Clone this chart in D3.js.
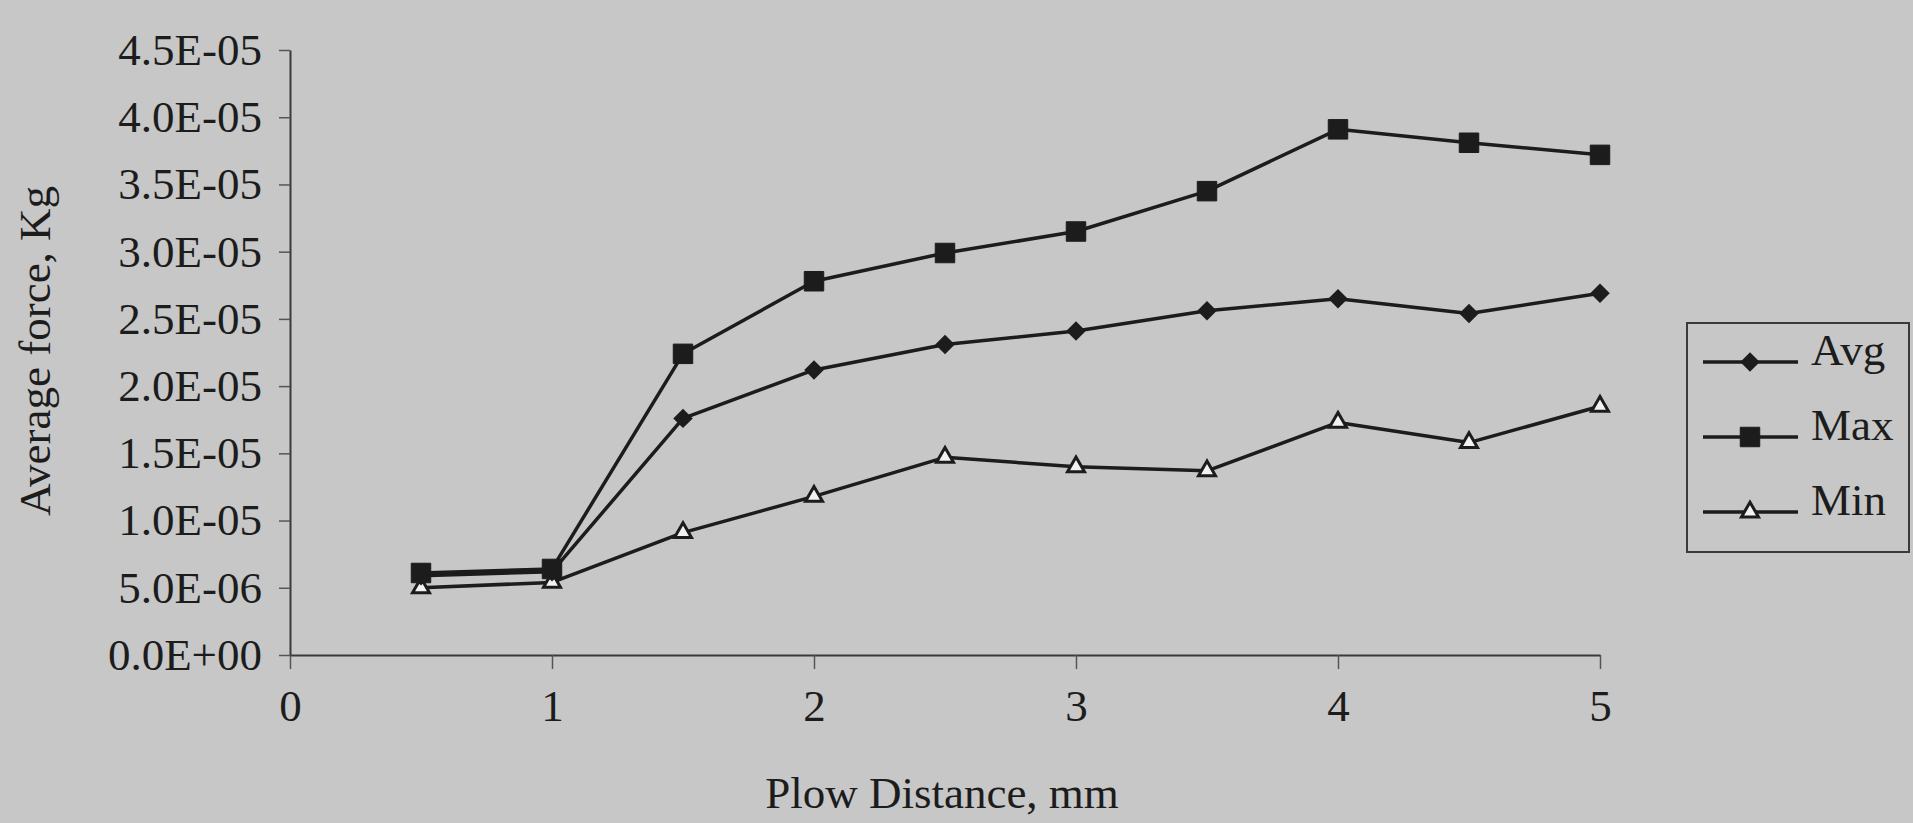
<!DOCTYPE html>
<html>
<head>
<meta charset="utf-8">
<script src="https://cdn.jsdelivr.net/npm/d3@7"></script>
<style>
  html, body { margin: 0; padding: 0; background: #c6c7c6; }
  svg { display: block; }
  text { font-family: "Liberation Serif", "Times New Roman", serif; fill: #1c1c1c; }
</style>
</head>
<body>
<svg id="chart" width="1913" height="823"></svg>
<script>
// ---- data ----
const plowDistance = [0.5, 1, 1.5, 2, 2.5, 3, 3.5, 4, 4.5, 5];
const avgForce = [5.9e-6, 6.2e-6, 1.76e-5, 2.12e-5, 2.31e-5, 2.41e-5, 2.56e-5, 2.65e-5, 2.54e-5, 2.69e-5];
const maxForce = [6.1e-6, 6.4e-6, 2.24e-5, 2.78e-5, 2.99e-5, 3.15e-5, 3.45e-5, 3.91e-5, 3.81e-5, 3.72e-5];
const minForce = [5.0e-6, 5.4e-6, 9.1e-6, 1.18e-5, 1.47e-5, 1.40e-5, 1.37e-5, 1.73e-5, 1.58e-5, 1.85e-5];
const seriesNames = ["Avg", "Max", "Min"];
const xTickValues = [0, 1, 2, 3, 4, 5];
const yTickValues = [0, 5e-6, 1e-5, 1.5e-5, 2e-5, 2.5e-5, 3e-5, 3.5e-5, 4e-5, 4.5e-5];
const yTickLabels = ["0.0E+00", "5.0E-06", "1.0E-05", "1.5E-05", "2.0E-05", "2.5E-05", "3.0E-05", "3.5E-05", "4.0E-05", "4.5E-05"];
const xTitle = "Plow Distance, mm";
const yTitle = "Average force, Kg";

// ---- layout ----
const svg = d3.select("#chart");
const ink = "#1c1c1c";
const fontSize = 45;
const x = d3.scaleLinear().domain([0, 5]).range([290, 1600]);
const y = d3.scaleLinear().domain([0, 4.5e-5]).range([655, 50]);

// x axis
const gx = svg.append("g").attr("transform", `translate(0,${y(0)})`)
  .call(d3.axisBottom(x).tickValues(xTickValues).tickSize(14).tickPadding(20).tickSizeOuter(0).tickFormat(d3.format("d")));
// y axis
const gy = svg.append("g").attr("transform", `translate(${x(0)},0)`)
  .call(d3.axisLeft(y).tickValues(yTickValues).tickSize(11).tickPadding(17).tickSizeOuter(0)
    .tickFormat((d, i) => yTickLabels[i]));

[gx, gy].forEach(g => {
  g.select(".domain").attr("stroke", "#3a3a3a").attr("stroke-width", 2);
  g.selectAll(".tick line").attr("stroke", "#555").attr("stroke-width", 1.5);
  g.selectAll(".tick text").attr("font-size", fontSize).attr("fill", ink)
    .style("font-family", '"Liberation Serif", "Times New Roman", serif');
});

// titles
svg.append("text").attr("x", 942).attr("y", 808).attr("text-anchor", "middle")
  .attr("font-size", fontSize).text(xTitle);
svg.append("text").attr("transform", "translate(50,351) rotate(-90)").attr("text-anchor", "middle")
  .attr("font-size", fontSize).text(yTitle);

// ---- series ----
const series = [
  { name: seriesNames[0], values: avgForce, symbol: "diamond" },
  { name: seriesNames[1], values: maxForce, symbol: "square" },
  { name: seriesNames[2], values: minForce, symbol: "triangle" }
];

const line = d3.line().x(d => x(d[0])).y(d => y(d[1]));

function drawMarker(g, kind) {
  if (kind === "diamond") {
    g.append("path").attr("d", d3.symbol().type(d3.symbolSquare).size(190)())
      .attr("transform", "rotate(45)").attr("fill", ink);
  } else if (kind === "square") {
    g.append("path").attr("d", d3.symbol().type(d3.symbolSquare).size(380)())
      .attr("fill", ink).attr("stroke", ink).attr("stroke-width", 1);
  } else {
    g.append("path").attr("d", d3.symbol().type(d3.symbolTriangle).size(125)())
      .attr("fill", "#f2f2f2").attr("stroke", ink).attr("stroke-width", 3);
  }
}

// draw Min first so Max/Avg markers overlay as in reference
[series[2], series[0], series[1]].forEach(s => {
  const pts = plowDistance.map((d, i) => [d, s.values[i]]);
  svg.append("path").datum(pts).attr("d", line)
    .attr("fill", "none").attr("stroke", ink).attr("stroke-width", 3.5).attr("stroke-linejoin", "round");
});
[series[2], series[0], series[1]].forEach(s => {
  const pts = plowDistance.map((d, i) => [d, s.values[i]]);
  pts.forEach(p => {
    const g = svg.append("g").attr("transform", `translate(${x(p[0])},${y(p[1])})`);
    drawMarker(g, s.symbol);
  });
});

// ---- legend ----
const lg = svg.append("g");
lg.append("rect").attr("x", 1687).attr("y", 323).attr("width", 222).attr("height", 229)
  .attr("fill", "none").attr("stroke", "#3a3a3a").attr("stroke-width", 2);
series.forEach((s, i) => {
  const ly = 362 + i * 75;
  lg.append("line").attr("x1", 1703).attr("x2", 1798).attr("y1", ly).attr("y2", ly)
    .attr("stroke", ink).attr("stroke-width", 3.5);
  const g = lg.append("g").attr("transform", `translate(1750,${ly})`);
  drawMarker(g, s.symbol);
  lg.append("text").attr("x", 1811).attr("y", ly + 3).attr("font-size", fontSize).text(s.name);
});
</script>
</body>
</html>
